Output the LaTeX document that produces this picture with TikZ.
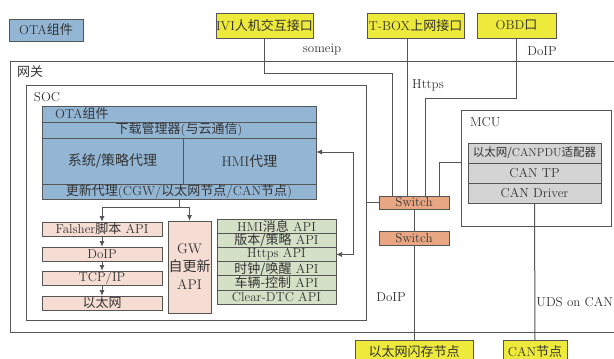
\documentclass[tikz,border=0pt]{standalone}
\usepackage{fontspec}
\newfontfamily\cjk{Noto Sans CJK SC}
\newcommand{\cn}[1]{{\cjk #1}}
\usetikzlibrary{arrows.meta}
\definecolor{lc}{HTML}{555555}
\definecolor{tc}{HTML}{333333}
\definecolor{otablue}{HTML}{93B6D5}
\definecolor{ifyellow}{HTML}{EEEA3B}
\definecolor{swor}{HTML}{E9A682}
\definecolor{apipink}{HTML}{F5DDD3}
\definecolor{apigreen}{HTML}{D5E1C7}
\definecolor{mcugray}{HTML}{D4D4D4}
\begin{document}
\begin{tikzpicture}[x=1pt,y=-1pt,
  font=\fontsize{13}{14}\selectfont, text=tc,
  bx/.style={draw=lc, line width=1pt, inner sep=0pt, outer sep=0pt, align=center},
  lab/.style={inner sep=0pt, outer sep=0pt},
  con/.style={draw=lc, line width=1pt},
  arr/.style={con, -{Latex[length=6pt,width=5pt]}},
  ]
\useasboundingbox (0,0) rectangle (614,359);
\clip (0,0) rectangle (614,359);

% legend and interfaces
\node[bx, fill=otablue, minimum width=74pt, minimum height=22pt] (legend) at (46,30) {OTA\cn{组件}};
\node[bx, fill=ifyellow, minimum width=97pt, minimum height=25pt] (ivi) at (264.5,25.5) {IVI\cn{人机交互接口}};
\node[bx, fill=ifyellow, minimum width=97pt, minimum height=25pt] (tbox) at (415.5,25.5) {T-BOX\cn{上网接口}};
\node[bx, fill=ifyellow, minimum width=79pt, minimum height=25pt] (obd) at (516.5,25.5) {OBD\cn{口}};

% gateway and SOC frames
\draw[con] (10,61) rectangle (640,332);
\node[lab, anchor=west] (gwlab) at (17,72) {\cn{网关}};
\node[bx, minimum width=340pt, minimum height=235pt] (soc) at (196,202.5) {};
\node[lab, anchor=west] (soclab) at (34,97) {SOC};

% OTA block
\node[bx, fill=otablue, minimum width=274pt, minimum height=16pt] (ota1) at (179,114) {};
\node[lab, anchor=west] (ota1t) at (55,114) {OTA\cn{组件}};
\node[bx, fill=otablue, minimum width=274pt, minimum height=16pt] (ota2) at (179,130) {\cn{下载管理器}(\cn{与云通信})};
\node[bx, fill=otablue, minimum width=141pt, minimum height=46pt] (sys) at (112.5,161) {\fontsize{14}{15}\selectfont\cn{系统/策略代理}};
\node[bx, fill=otablue, minimum width=133pt, minimum height=46pt] (hmi) at (249.5,161) {\fontsize{14}{15}\selectfont HMI\cn{代理}};
\node[bx, fill=otablue, minimum width=274pt, minimum height=15pt] (upd) at (179,191.5) {\cn{更新代理}(CGW/\cn{以太网节点}/CAN\cn{节点})};

% left stack
\node[bx, fill=apipink, minimum width=120pt, minimum height=14pt] (fl) at (102,229) {Falsher\cn{脚本} API};
\node[bx, fill=apipink, minimum width=120pt, minimum height=14pt] (doip) at (102,254) {DoIP};
\node[bx, fill=apipink, minimum width=120pt, minimum height=14pt] (tcp) at (102,278) {TCP/IP};
\node[bx, fill=apipink, minimum width=120pt, minimum height=14pt] (eth) at (102,303) {\cn{以太网}};
\node[bx, fill=apipink, minimum width=43pt, minimum height=92pt, font=\fontsize{14}{15}\selectfont] (gw) at (189.5,267) {GW\\[3pt]\cn{自更新}\\[3pt]API};

% green stack
\node[bx, fill=apigreen, minimum width=119pt, minimum height=14.2pt] (g1) at (276.5,226.1) {HMI\cn{消息} API};
\node[bx, fill=apigreen, minimum width=119pt, minimum height=14.2pt] (g2) at (276.5,240.3) {\cn{版本/策略} API};
\node[bx, fill=apigreen, minimum width=119pt, minimum height=14.2pt] (g3) at (276.5,254.5) {Https API};
\node[bx, fill=apigreen, minimum width=119pt, minimum height=14.2pt] (g4) at (276.5,268.7) {\cn{时钟/唤醒} API};
\node[bx, fill=apigreen, minimum width=119pt, minimum height=14.2pt] (g5) at (276.5,282.9) {\cn{车辆-控制} API};
\node[bx, fill=apigreen, minimum width=119pt, minimum height=14.2pt] (g6) at (276.5,297.1) {Clear-DTC API};

% switches
\node[bx, fill=swor, minimum width=70pt, minimum height=13pt] (sw1) at (414,202.5) {Switch};
\node[bx, fill=swor, minimum width=70pt, minimum height=14pt] (sw2) at (414,238) {Switch};

% MCU
\node[bx, minimum width=150pt, minimum height=116pt] (mcu) at (536,168) {};
\node[lab, anchor=west] (mculab) at (470,122) {MCU};
\node[bx, fill=mcugray, minimum width=133pt, minimum height=20pt, font=\fontsize{11.5}{12}\selectfont] (pdu) at (534.5,153) {\cn{以太网/}CANPDU\cn{适配器}};
\node[bx, fill=mcugray, minimum width=133pt, minimum height=20pt] (cantp) at (534.5,173) {CAN TP};
\node[bx, fill=mcugray, minimum width=133pt, minimum height=20pt] (candrv) at (534.5,193) {CAN Driver};

% external nodes
\node[bx, fill=ifyellow, minimum width=118pt, minimum height=24pt] (flash) at (414,352) {\cn{以太网闪存节点}};
\node[bx, fill=ifyellow, minimum width=64pt, minimum height=24pt] (can) at (535,352) {CAN\cn{节点}};

% connector labels
\node[lab] (l1) at (322,50) {someip};
\node[lab] (l2) at (542,51) {DoIP};
\node[lab] (l3) at (428,85) {Https};
\node[lab] (l4) at (391,297) {DoIP};
\node[lab, anchor=east] (l5) at (613,302) {UDS on CAN};

% connectors
\coordinate (a1) at (392,73);
\draw[con] (ivi.south) |- (a1) -- (a1 |- sw1.north);
\coordinate (a2) at (407,40);
\draw[con] (a2 |- tbox.south) -- (a2 |- sw1.north);
\coordinate (a3) at (425,98);
\draw[con] (obd.south) |- (a3) -- (a3 |- sw1.north);
\coordinate (a4) at (439,162);
\draw[con] (a4 |- sw1.north) -- (a4) -- (a4 -| mcu.west);
\draw[con] (sw1.west) -- (sw1.west -| soc.east);
\draw[con] (sw1.south) -- (sw2.north);
\draw[con] (sw2.south) -- (flash.north);
\draw[con] (candrv.south) -- (can.north);

\coordinate (br) at (353,152);
\draw[con, {Latex[length=6pt,width=5pt]}-{Latex[length=6pt,width=5pt]}] (br -| hmi.east) -- (br) |- (g3.east);

\coordinate (sp) at (179,207);
\draw[con] (upd.south) -- (sp);
\draw[arr] (sp) -| (fl.north);
\draw[arr] (sp) -| (gw.north);
\draw[arr] (fl.south) -- (doip.north);
\draw[arr] (doip.south) -- (tcp.north);
\draw[arr] (tcp.south) -- (eth.north);
\end{tikzpicture}
\end{document}
